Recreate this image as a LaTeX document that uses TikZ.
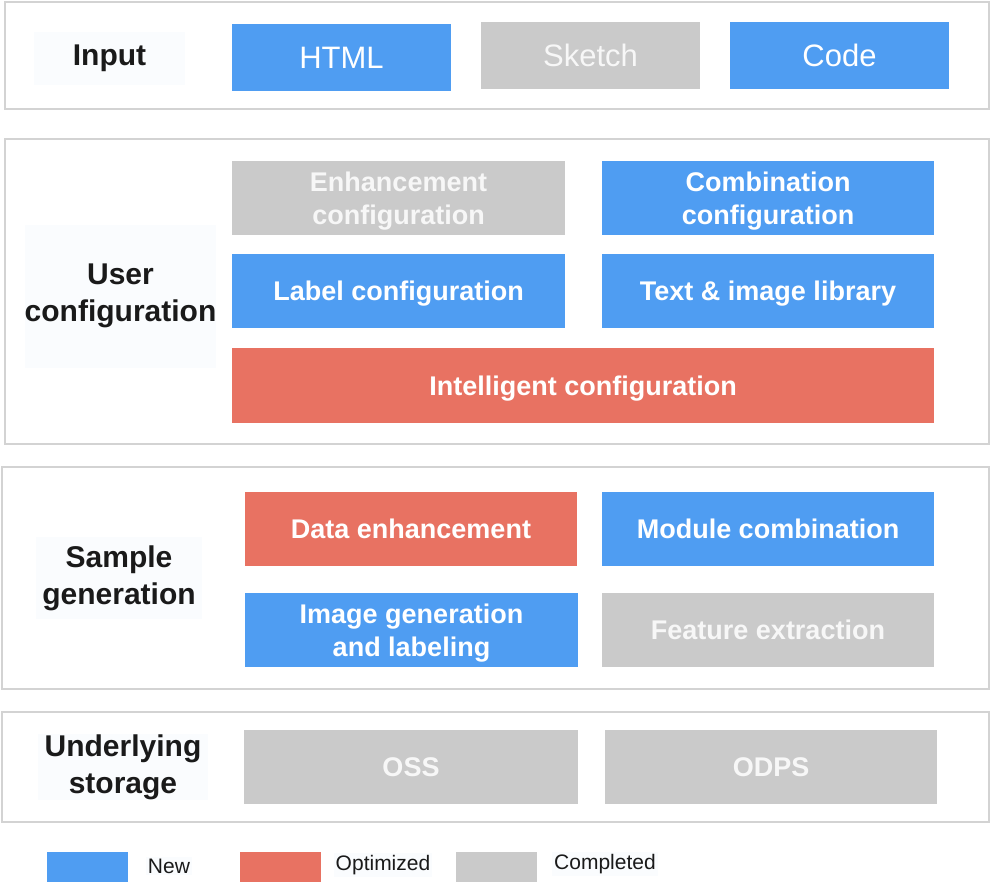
\documentclass[tikz,border=0pt]{standalone}
\usepackage{fontspec}
\setmainfont{Liberation Sans}
\usetikzlibrary{positioning}
\definecolor{NewBlue}{HTML}{4F9DF2}
\definecolor{OptRed}{HTML}{E87262}
\definecolor{DoneGray}{HTML}{CACACA}
\definecolor{PanelGray}{HTML}{D3D3D3}
\definecolor{LabelBg}{HTML}{FAFCFE}
\definecolor{InkBlack}{HTML}{1A1A1A}
\tikzset{
  panel/.style={draw=PanelGray, line width=1.2pt, fill=white, inner sep=0pt},
  layer/.style={fill=LabelBg, text=InkBlack, align=center, inner sep=0pt, font=\fontsize{30}{37}\selectfont\bfseries},
  inbox/.style={inner sep=0pt, minimum width=219pt, minimum height=67pt, text=white, text depth=0pt, font=\fontsize{31}{36}\selectfont},
  modbox/.style={inner sep=0pt, minimum width=333pt, minimum height=74pt, text=white, text depth=0pt, align=center, font=\fontsize{27}{33}\selectfont\bfseries},
  newbox/.style={fill=NewBlue},
  optbox/.style={fill=OptRed},
  donebox/.style={fill=DoneGray, text=white!94!gray},
  keybox/.style={inner sep=0pt, minimum width=81pt, minimum height=30pt},
  keytext/.style={fill=LabelBg, text=InkBlack, inner sep=2pt, font=\fontsize{21}{24}\selectfont}
}
\begin{document}
\begin{tikzpicture}[x=1pt, y=-1pt]
\useasboundingbox (0,0) rectangle (992,889);

% layer panels
\node[panel, minimum width=984pt, minimum height=107pt] (inputpanel) at (497,55.5) {};
\node[panel, minimum width=984pt, minimum height=305pt] (userpanel) at (497,291.5) {};
\node[panel, minimum width=987pt, minimum height=222pt] (samplepanel) at (495.5,578) {};
\node[panel, minimum width=987pt, minimum height=110pt] (storagepanel) at (495.5,767) {};

% layer titles
\node[layer, minimum width=151pt, minimum height=53pt] (input) at (109.5,58) {Input};
\node[layer, minimum width=185pt, minimum height=143pt] (user) at (120.5,296) {User\\configuration};
\node[layer, minimum width=166pt, minimum height=82pt] (sample) at (119,578) {Sample\\generation};
\node[layer, minimum width=170pt, minimum height=58pt] (storage) at (123,767) {Underlying\\storage};

% input
\node[inbox, newbox] (html) at (341.5,57.5) {HTML};
\node[inbox, donebox] (sketch) at (590.5,55.5) {Sketch};
\node[inbox, newbox] (code) at (839.5,55.5) {Code};

% user configuration
\node[modbox, donebox] (enhconf) at (398.5,198) {Enhancement\\configuration};
\node[modbox, newbox, minimum width=332pt] (combconf) at (768,198) {Combination\\configuration};
\node[modbox, newbox] (labelconf) at (398.5,291) {Label configuration};
\node[modbox, newbox, minimum width=332pt] (library) at (768,291) {Text \& image library};
\node[modbox, optbox, minimum width=702pt, minimum height=75pt] (intelconf) at (583,385.5) {Intelligent configuration};

% sample generation
\node[modbox, optbox, minimum width=332pt] (dataenh) at (411,529) {Data enhancement};
\node[modbox, newbox, minimum width=332pt] (modcomb) at (768,529) {Module combination};
\node[modbox, newbox] (imagegen) at (411.5,630) {Image generation\\and labeling};
\node[modbox, donebox, minimum width=332pt] (feature) at (768,630) {Feature extraction};

% underlying storage
\node[modbox, donebox, minimum width=334pt] (oss) at (411,767) {OSS};
\node[modbox, donebox, minimum width=332pt] (odps) at (771,767) {ODPS};

% legend
\node[keybox, newbox] (keynew) at (87.5,867) {};
\node[keytext] (keynewtext) at (169,866) {New};
\node[keybox, optbox] (keyopt) at (280,867) {};
\node[keytext] (keyopttext) at (383,865) {Optimized};
\node[keybox, donebox] (keydone) at (496.5,867) {};
\node[keytext] (keydonetext) at (605,864) {Completed};
\end{tikzpicture}
\end{document}
